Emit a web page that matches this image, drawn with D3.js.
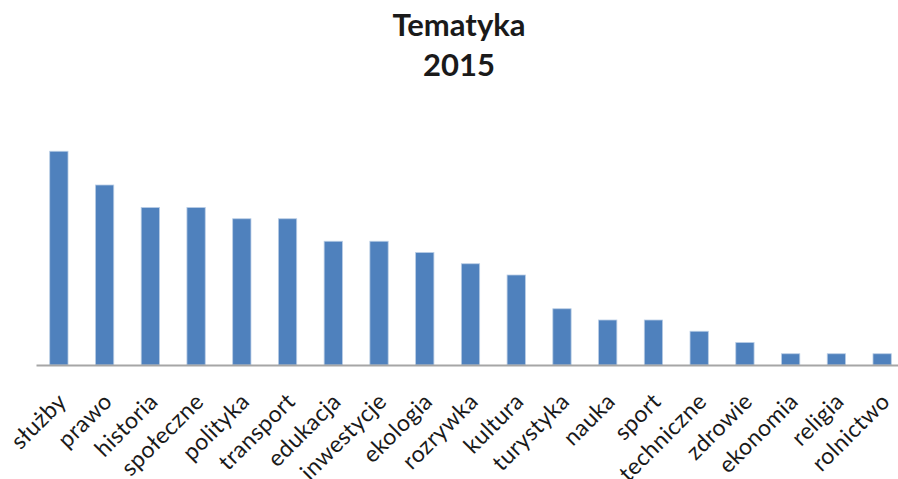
<!DOCTYPE html>
<html>
<head>
<meta charset="utf-8">
<script src="https://cdn.jsdelivr.net/npm/d3@7"></script>
<style>
  body { margin: 0; background: #fff; }
  text { font-family: Lato, "Open Sans", sans-serif; fill: #1a1a1a; }
</style>
</head>
<body>
<div id="chart"></div>
<script>
// Data
var categories = ["służby", "prawo", "historia", "społeczne", "polityka", "transport",
    "edukacja", "inwestycje", "ekologia", "rozrywka", "kultura", "turystyka",
    "nauka", "sport", "techniczne", "zdrowie", "ekonomia", "religia", "rolnictwo"];
var counts = [19, 16, 14, 14, 13, 13, 11, 11, 10, 9, 8, 5, 4, 4, 3, 2, 1, 1, 1];
var titleLines = ["Tematyka", "2015"];

var svgWidth = 898;
var svgHeight = 479;

var margin = { left: 36 };
var plotRight = 905;
var baseline = 365;
var unit = 11.25;

var svg = d3.select("#chart")
    .append("svg")
    .attr("width", svgWidth)
    .attr("height", svgHeight);

// Scales
var xScale = d3.scaleBand()
    .domain(categories)
    .range([margin.left, plotRight])
    .paddingInner(0.6)
    .paddingOuter(0.3);

var yScale = d3.scaleLinear()
    .domain([0, 19])
    .range([baseline, baseline - 19 * unit]);

// Bars
svg.append("g").selectAll("rect")
    .data(categories)
    .enter()
    .append("rect")
    .attr("x", d => xScale(d))
    .attr("y", (d, i) => yScale(counts[i]))
    .attr("width", xScale.bandwidth())
    .attr("height", (d, i) => yScale(0) - yScale(counts[i]))
    .attr("fill", "#4f81bd")
    .attr("stroke", "#b9cde5")
    .attr("stroke-width", 0.8);

// X axis
var bottomAxis = d3.axisBottom(xScale).tickSize(0).tickPadding(0);
var axisG = svg.append("g")
    .attr("transform", `translate(0, ${baseline})`)
    .call(bottomAxis);

axisG.select(".domain")
    .attr("stroke", "#a6a6a6")
    .attr("stroke-width", 2);

axisG.selectAll(".tick text")
    .attr("font-family", "Lato, 'Open Sans', sans-serif")
    .attr("font-size", 23)
    .attr("letter-spacing", 0.4)
    .attr("fill", "#1a1a1a")
    .attr("text-anchor", "end")
    .attr("dy", 0)
    .attr("y", 0)
    .attr("transform", "translate(9, 38) rotate(-45)");

// Title
svg.append("g").selectAll("text")
    .data(titleLines)
    .enter()
    .append("text")
    .attr("x", 459)
    .attr("y", (d, i) => 36 + i * 40)
    .attr("text-anchor", "middle")
    .attr("font-size", 31)
    .attr("font-weight", "bold")
    .text(d => d);
</script>
</body>
</html>
